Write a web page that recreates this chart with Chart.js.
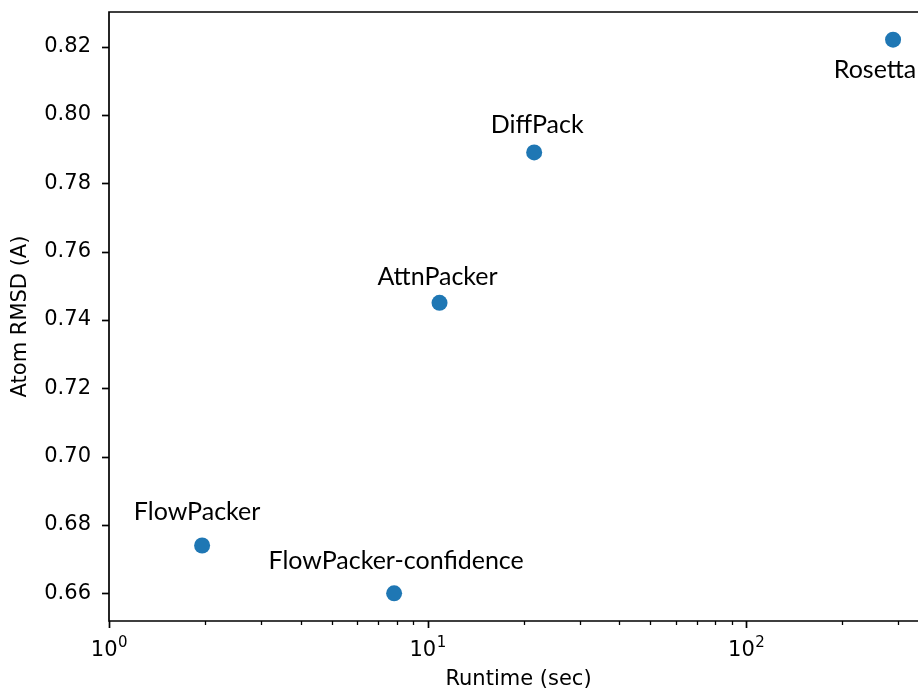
<!DOCTYPE html>
<html>
<head>
<meta charset="utf-8">
<script src="https://cdn.jsdelivr.net/npm/chart.js@4.4.1/dist/chart.umd.min.js"></script>
<style>
  html, body { margin: 0; padding: 0; overflow: hidden; background: #ffffff; }
  #wrap { width: 940px; height: 692px; }
</style>
</head>
<body>
<div id="wrap"><canvas id="c" width="940" height="692"></canvas></div>
<script>
// Side-chain packing methods: runtime vs. atom RMSD
const methods = ['FlowPacker', 'FlowPacker-confidence', 'AttnPacker', 'DiffPack', 'Rosetta'];
const runtimeSec = [1.96, 7.85, 10.9, 21.6, 289];
const atomRmsd = [0.674, 0.660, 0.745, 0.789, 0.822];

const yTickValues = [0.66, 0.68, 0.70, 0.72, 0.74, 0.76, 0.78, 0.80, 0.82];
const xMajorTicks = [1, 10, 100];
const xMajorExponents = ['0', '1', '2'];

// label placement around each marker (dx, dy of text baseline centre), px
const labelOffsets = [[-5, -25], [2, -24], [-2, -18], [3, -19], [-18, 38]];

const INK = '#000000';
const SPINE_W = 1.7;
const TICK_FONT = { family: 'DejaVu Sans', size: 21 };

const xMinorTicks = [];
for (let d = 1; d <= 100; d *= 10) {
  for (let m = 2; m <= 9; m++) xMinorTicks.push(m * d);
}

const framePlugin = {
  id: 'frame',
  afterDatasetsDraw(chart) {
    const { ctx, chartArea: a, scales } = chart;
    ctx.save();
    ctx.strokeStyle = INK;
    ctx.lineCap = 'butt';

    // tick marks (outward)
    ctx.lineWidth = 1.7;
    yTickValues.forEach(v => {
      const y = Math.round(scales.y.getPixelForValue(v)) + 0.5;
      ctx.beginPath(); ctx.moveTo(a.left - 7, y); ctx.lineTo(a.left, y); ctx.stroke();
    });
    xMajorTicks.forEach(v => {
      const x = Math.round(scales.x.getPixelForValue(v)) + 0.5;
      ctx.beginPath(); ctx.moveTo(x, a.bottom); ctx.lineTo(x, a.bottom + 7); ctx.stroke();
    });
    ctx.lineWidth = 1.3;
    xMinorTicks.forEach(v => {
      const x = scales.x.getPixelForValue(v);
      if (x < a.left || x > a.right) return;
      const px = Math.round(x) + 0.5;
      ctx.beginPath(); ctx.moveTo(px, a.bottom); ctx.lineTo(px, a.bottom + 4); ctx.stroke();
    });

    // decade labels as base 10 with a raised exponent
    ctx.fillStyle = INK;
    ctx.textBaseline = 'alphabetic';
    ctx.textAlign = 'left';
    const baseFont = '21px "DejaVu Sans"';
    const expFont = '15px "DejaVu Sans"';
    xMajorTicks.forEach((v, i) => {
      const x = scales.x.getPixelForValue(v);
      ctx.font = baseFont;
      const wBase = ctx.measureText('10').width;
      ctx.font = expFont;
      const wExp = ctx.measureText(xMajorExponents[i]).width;
      const x0 = x - (wBase + wExp) / 2;
      const baseline = a.bottom + 35;
      ctx.font = baseFont;
      ctx.fillText('10', x0, baseline);
      ctx.font = expFont;
      ctx.fillText(xMajorExponents[i], x0 + wBase + 0.5, baseline - 9);
    });

    // spines: left, bottom, top
    ctx.lineWidth = SPINE_W;
    ctx.beginPath();
    ctx.moveTo(a.right, a.top); ctx.lineTo(a.left, a.top);
    ctx.lineTo(a.left, a.bottom); ctx.lineTo(a.right, a.bottom);
    ctx.stroke();
    ctx.restore();
  }
};

const labelPlugin = {
  id: 'pointLabels',
  afterDatasetsDraw(chart) {
    const { ctx } = chart;
    const meta = chart.getDatasetMeta(0);
    ctx.save();
    ctx.fillStyle = INK;
    ctx.font = '25px Lato';
    ctx.textAlign = 'center';
    ctx.textBaseline = 'alphabetic';
    meta.data.forEach((pt, i) => {
      const [dx, dy] = labelOffsets[i];
      ctx.fillText(methods[i], pt.x + dx, pt.y + dy);
    });
    ctx.restore();
  }
};

new Chart(document.getElementById('c'), {
  type: 'scatter',
  data: {
    datasets: [{
      label: 'methods',
      data: runtimeSec.map((x, i) => ({ x, y: atomRmsd[i] })),
      backgroundColor: '#1f77b4',
      borderWidth: 0,
      pointRadius: 8,
      pointHoverRadius: 8
    }]
  },
  options: {
    responsive: false,
    animation: false,
    devicePixelRatio: 1,
    layout: { padding: { top: 12, right: 12, left: 0, bottom: 0 } },
    plugins: { legend: { display: false }, tooltip: { enabled: false } },
    scales: {
      x: {
        type: 'logarithmic',
        position: 'bottom',
        min: 1,
        max: 372,
        grid: { display: false, drawTicks: false },
        border: { display: false },
        afterBuildTicks: s => { s.ticks = xMajorTicks.map(v => ({ value: v, major: true })); },
        afterFit: s => { s.height = 71; s.paddingLeft = 0; s.paddingRight = 0; },
        ticks: { display: false },
        title: {
          display: true,
          text: 'Runtime (sec)',
          color: INK,
          font: { family: 'DejaVu Sans', size: 21, lineHeight: 1.2 },
          padding: { top: 0, bottom: 0 }
        }
      },
      y: {
        type: 'linear',
        min: 0.6519,
        max: 0.8301,
        grid: { display: false, drawTicks: false },
        border: { display: false },
        afterBuildTicks: s => { s.ticks = yTickValues.map(v => ({ value: v })); },
        afterFit: s => { s.width = 109; s.paddingTop = 0; s.paddingBottom = 0; },
        ticks: {
          color: INK,
          font: TICK_FONT,
          padding: 18,
          callback: v => Number(v).toFixed(2)
        },
        title: {
          display: true,
          text: 'Atom RMSD (A)',
          color: INK,
          font: { family: 'DejaVu Sans', size: 21, lineHeight: 1.2 },
          padding: { top: 8, bottom: 0 }
        }
      }
    }
  },
  plugins: [framePlugin, labelPlugin]
});
</script>
</body>
</html>
